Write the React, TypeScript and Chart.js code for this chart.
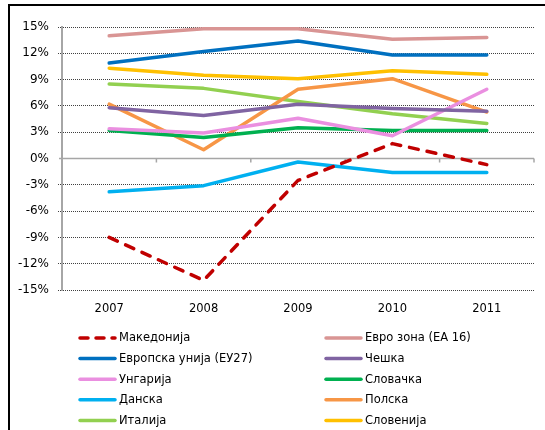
import React, { useEffect, useRef } from "react";
import { Chart, registerables } from "chart.js";

Chart.register(...registerables);

const years = ["2007", "2008", "2009", "2010", "2011"];

const seriesNames = [
  "Македонија",
  "Евро зона (ЕА 16)",
  "Европска унија (ЕУ27)",
  "Чешка",
  "Унгарија",
  "Словачка",
  "Данска",
  "Полска",
  "Италија",
  "Словенија",
];

const macedonia = [-9.0, -13.9, -2.5, 1.7, -0.7];
const euroZone = [14.0, 14.8, 14.8, 13.6, 13.8];
const eu27 = [10.9, 12.2, 13.4, 11.8, 11.8];
const czech = [5.8, 4.9, 6.2, 5.7, 5.4];
const hungary = [3.4, 2.9, 4.6, 2.6, 7.9];
const slovakia = [3.2, 2.4, 3.5, 3.2, 3.2];
const denmark = [-3.8, -3.1, -0.4, -1.6, -1.6];
const poland = [6.2, 1.0, 7.9, 9.1, 5.3];
const italy = [8.5, 8.0, 6.5, 5.1, 4.0];
const slovenia = [10.3, 9.5, 9.1, 10.0, 9.6];

const yTicks = [-15, -12, -9, -6, -3, 0, 3, 6, 9, 12, 15];

const seriesValues = [macedonia, euroZone, eu27, czech, hungary, slovakia, denmark, poland, italy, slovenia];
const seriesColors = [
  "#C00000",
  "#D99594",
  "#0070C0",
  "#8064A2",
  "#EA8FE0",
  "#00B050",
  "#00B0F0",
  "#F79646",
  "#92D050",
  "#FFC000",
];

const FONT = "'DejaVu Sans', Verdana, sans-serif";

const zeroLinePlugin = {
  id: "zeroLine",
  beforeDatasetsDraw(chart: any) {
    const { ctx, chartArea, scales } = chart;
    const y0 = scales.y.getPixelForValue(0);
    const xs = scales.x;
    ctx.save();
    ctx.strokeStyle = "#A6A6A6";
    ctx.lineWidth = 1.5;
    ctx.beginPath();
    ctx.moveTo(chartArea.left - 3, y0);
    ctx.lineTo(chartArea.right, y0);
    const n = years.length;
    for (let i = 0; i < n; i++) {
      const a = xs.getPixelForValue(i);
      const b = i < n - 1 ? xs.getPixelForValue(i + 1) : a + (a - xs.getPixelForValue(i - 1));
      const x = (a + b) / 2;
      ctx.moveTo(x, y0);
      ctx.lineTo(x, y0 + 4);
    }
    ctx.stroke();
    ctx.restore();
  },
};

const legendPlugin = {
  id: "customLegend",
  afterDraw(chart: any) {
    const { ctx } = chart;
    ctx.save();
    ctx.font = "11.5px " + FONT;
    ctx.textBaseline = "middle";
    ctx.fillStyle = "#000";
    chart.data.datasets.forEach((ds: any, i: number) => {
      const col = i % 2;
      const row = Math.floor(i / 2);
      const x0 = col === 0 ? 80 : 326;
      const y = 338 + row * 20.6;
      ctx.save();
      ctx.strokeStyle = ds.borderColor;
      ctx.lineWidth = 3.5;
      ctx.lineCap = "round";
      if (i === 0) ctx.setLineDash([8, 8]);
      ctx.beginPath();
      ctx.moveTo(x0, y);
      ctx.lineTo(x0 + 35, y);
      ctx.stroke();
      ctx.restore();
      ctx.fillText(ds.label, x0 + 39, y + 0.5);
    });
    ctx.restore();
  },
};

export default function App() {
  const ref = useRef<HTMLCanvasElement>(null);
  useEffect(() => {
    if (!ref.current) return;
    const chart = new Chart(ref.current, {
      type: "line",
      data: {
        labels: years,
        datasets: seriesNames.map((name, i) => ({
          label: name,
          data: seriesValues[i],
          borderColor: seriesColors[i],
          backgroundColor: seriesColors[i],
          borderWidth: 3.5,
          borderDash: i === 0 ? [9, 9] : [],
          borderCapStyle: "round" as const,
          borderJoinStyle: "round" as const,
          pointRadius: 0,
          tension: 0,
          fill: false,
        })),
      },
      options: {
        responsive: false,
        animation: false,
        maintainAspectRatio: false,
        layout: { padding: { top: 27, right: 11, left: 0, bottom: 0 } },
        plugins: { legend: { display: false }, tooltip: { enabled: false } },
        scales: {
          x: {
            type: "category",
            offset: true,
            grid: { display: false, drawTicks: false },
            border: { display: false },
            ticks: { color: "#000", font: { family: FONT, size: 11.5 }, padding: 12, maxRotation: 0 },
            afterFit: (s: any) => {
              s.height = 140;
            },
          },
          y: {
            min: -15,
            max: 15,
            afterBuildTicks: (s: any) => {
              s.ticks = yTicks.map((v) => ({ value: v }));
            },
            grid: {
              color: (c: any) => (c.tick && c.tick.value === 0 ? "rgba(0,0,0,0)" : "#404040"),
              tickColor: (c: any) => (c.tick && c.tick.value === 0 ? "rgba(0,0,0,0)" : "#404040"),
              lineWidth: 1,
              tickLength: 4,
              tickBorderDash: [1, 1],
            },
            border: { display: true, color: "#A6A6A6", width: 2, dash: [1, 1] },
            ticks: {
              color: "#000",
              font: { family: FONT, size: 12 },
              padding: 9,
              callback: (v: any) => v + "%",
            },
            afterFit: (s: any) => {
              s.width = 62;
            },
          },
        },
      },
      plugins: [zeroLinePlugin, legendPlugin],
    });
    return () => chart.destroy();
  }, []);
  return (
    <div style={{ position: "fixed", left: 0, top: 0, width: 545, height: 430, background: "#fff" }}>
      <canvas ref={ref} width={545} height={430} style={{ position: "absolute", left: 0, top: 0 }} />
      <div
        style={{
          position: "absolute",
          left: 8,
          top: 4,
          width: 545,
          height: 430,
          borderTop: "2px solid #000",
          borderLeft: "2px solid #000",
          boxSizing: "border-box",
          pointerEvents: "none",
        }}
      />
    </div>
  );
}
